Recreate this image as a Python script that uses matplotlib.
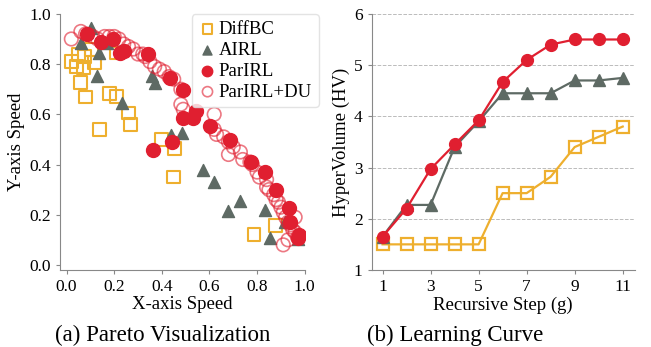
import numpy as np
import matplotlib
matplotlib.use("Agg")
import matplotlib.pyplot as plt

plt.rcParams['font.family'] = ['Liberation Serif', 'DejaVu Serif']
plt.rcParams['mathtext.fontset'] = 'stix'

# ---- (a) Pareto visualization data ----
diffbc_x = [0.021, 0.042, 0.049, 0.077, 0.070, 0.105, 0.116, 0.059, 0.081, 0.140,
            0.182, 0.210, 0.210, 0.259, 0.270, 0.399, 0.455, 0.448, 0.787, 0.877]
diffbc_y = [0.811, 0.791, 0.838, 0.831, 0.785, 0.858, 0.805, 0.727, 0.669, 0.539,
            0.682, 0.672, 0.844, 0.605, 0.559, 0.499, 0.465, 0.350, 0.120, 0.156]

airl_x = [0.059, 0.101, 0.136, 0.171, 0.126, 0.231, 0.357, 0.371, 0.438, 0.485,
          0.573, 0.620, 0.680, 0.727, 0.832, 0.856, 0.916, 0.972]
airl_y = [0.884, 0.944, 0.844, 0.884, 0.751, 0.645, 0.751, 0.725, 0.519, 0.525,
          0.379, 0.332, 0.213, 0.253, 0.219, 0.106, 0.173, 0.102]

parirl_x = [0.084, 0.143, 0.196, 0.224, 0.241, 0.343, 0.434, 0.487, 0.490, 0.529,
            0.545, 0.364, 0.443, 0.604, 0.685, 0.776, 0.832, 0.881, 0.933, 0.937,
            0.975, 0.972]
parirl_y = [0.920, 0.887, 0.898, 0.844, 0.851, 0.840, 0.743, 0.698, 0.585, 0.585,
            0.612, 0.456, 0.488, 0.555, 0.499, 0.412, 0.372, 0.297, 0.226, 0.173,
            0.120, 0.106]

du_x = [0.02, 0.06, 0.08, 0.11, 0.13, 0.16, 0.18, 0.20, 0.22, 0.24, 0.26, 0.28,
        0.30, 0.32, 0.33, 0.35, 0.37, 0.39, 0.41, 0.43, 0.45, 0.48, 0.48, 0.49,
        0.62, 0.62, 0.63, 0.66, 0.68, 0.68, 0.70, 0.73, 0.74, 0.77, 0.78, 0.80,
        0.81, 0.84, 0.84, 0.85, 0.87, 0.88, 0.89, 0.90, 0.91, 0.92, 0.93, 0.94,
        0.95, 0.96, 0.97, 0.91, 0.93, 0.96]
du_y = [0.90, 0.93, 0.92, 0.91, 0.90, 0.91, 0.91, 0.91, 0.90, 0.88, 0.87, 0.86,
        0.84, 0.84, 0.83, 0.81, 0.79, 0.78, 0.77, 0.75, 0.74, 0.70, 0.64, 0.62,
        0.60, 0.54, 0.52, 0.51, 0.49, 0.44, 0.47, 0.45, 0.42, 0.41, 0.40, 0.37,
        0.35, 0.34, 0.31, 0.30, 0.28, 0.26, 0.25, 0.23, 0.21, 0.19, 0.17, 0.16,
        0.14, 0.13, 0.11, 0.08, 0.10, 0.19]

# ---- (b) learning curve data ----
steps = np.arange(1, 12)
hv_parirl = [1.65, 2.20, 2.97, 3.45, 3.92, 4.67, 5.10, 5.40, 5.50, 5.50, 5.50]
hv_airl = [1.65, 2.27, 2.27, 3.40, 3.90, 4.45, 4.45, 4.45, 4.70, 4.70, 4.75]
hv_diffbc = [1.50, 1.50, 1.50, 1.50, 1.50, 2.50, 2.50, 2.82, 3.40, 3.60, 3.80]

c_orange = '#EEAF2E'
c_gray = '#5E6A64'
c_red = '#E01F30'

fig = plt.figure(figsize=(6.51, 3.47), dpi=100)
ax1 = fig.add_axes([0.092, 0.222, 0.376, 0.738])
ax2 = fig.add_axes([0.571, 0.222, 0.404, 0.738])

for ax in (ax1, ax2):
    ax.spines['top'].set_visible(False)
    ax.spines['right'].set_visible(False)
    ax.spines['left'].set_color('#888888')
    ax.spines['bottom'].set_color('#888888')
    ax.tick_params(direction='out', length=3, color='#888888', labelsize=12.5)

# (a)
ax1.scatter(diffbc_x, diffbc_y, marker='s', s=85, facecolors='none',
            edgecolors=c_orange, linewidths=1.5, label='DiffBC')
ax1.scatter(airl_x, airl_y, marker='^', s=75, color=c_gray, label='AIRL')
ax1.scatter(parirl_x, parirl_y, marker='o', s=100, color=c_red, label='ParIRL')
ax1.scatter(du_x, du_y, marker='o', s=95, facecolors='none',
            edgecolors=c_red, linewidths=1.2, alpha=0.6, label='ParIRL+DU')
ax1.set_xlim(-0.028, 1.0)
ax1.set_ylim(-0.02, 1.0)
ax1.set_xticks([0.0, 0.2, 0.4, 0.6, 0.8, 1.0])
ax1.set_yticks([0.0, 0.2, 0.4, 0.6, 0.8, 1.0])
ax1.set_xlabel('X-axis Speed', fontsize=13.5, labelpad=1)
ax1.set_ylabel('Y-axis Speed', fontsize=13.5, labelpad=3)
leg = ax1.legend(loc='upper right', bbox_to_anchor=(1.095, 1.035), fontsize=13.5,
                 frameon=True, handletextpad=0.1, borderpad=0.35,
                 labelspacing=0.2, handlelength=1.0, markerscale=0.75)
leg.get_frame().set_edgecolor('#dddddd')

# (b)
ax2.grid(axis='y', linestyle='--', color='#bbbbbb', linewidth=0.7)
ax2.set_axisbelow(True)
ax2.plot(steps, hv_diffbc, color=c_orange, marker='s', markersize=8,
         markerfacecolor='none', markeredgewidth=1.6, linewidth=1.6)
ax2.plot(steps, hv_airl, color=c_gray, marker='^', markersize=8, linewidth=1.6)
ax2.plot(steps, hv_parirl, color=c_red, marker='o', markersize=8.5, linewidth=1.6)
ax2.set_xlim(0.55, 11.5)
ax2.set_ylim(1, 6)
ax2.set_xticks([1, 3, 5, 7, 9, 11])
ax2.set_yticks([1, 2, 3, 4, 5, 6])
ax2.set_xlabel('Recursive Step (g)', fontsize=13.5, labelpad=1)
ax2.set_ylabel('HyperVolume (HV)', fontsize=13.5, labelpad=3)

fig.text(163 / 651, 1 - 335 / 347, '(a) Pareto Visualization', fontsize=16.5,
         ha='center', va='center')
fig.text(455 / 651, 1 - 335 / 347, '(b) Learning Curve', fontsize=16.5,
         ha='center', va='center')

fig.savefig('out.png', dpi=100)
